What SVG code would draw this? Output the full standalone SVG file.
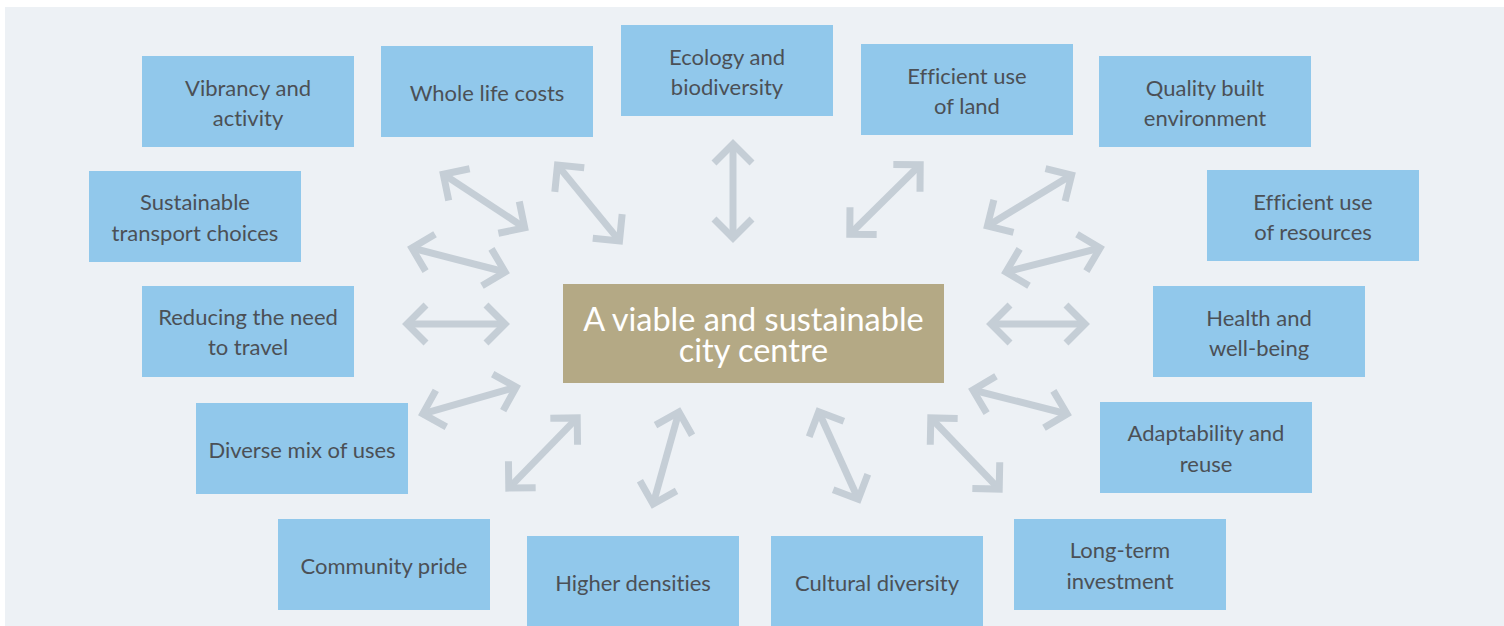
<svg xmlns="http://www.w3.org/2000/svg" width="1504" height="626" viewBox="0 0 1504 626">
  <style>
    text { font-variant-ligatures: none; }
    .box { fill: #91c8eb; }
    .label { font-family: Lato, "Open Sans", "Liberation Sans", sans-serif; font-size: 22px; fill: #4b5056; text-anchor: middle; }
    .hub { fill: #b4a985; }
    .hub-label { font-family: Lato, "Open Sans", "Liberation Sans", sans-serif; font-size: 32.5px; fill: #ffffff; text-anchor: middle; }
    .link { fill: none; stroke: #c5ced6; stroke-width: 7; marker-start: url(#head); marker-end: url(#head); }
  </style>
  <defs>
    <marker id="head" markerUnits="userSpaceOnUse" viewBox="-30 -30 40 60" markerWidth="40" markerHeight="60" refX="0" refY="0" orient="auto-start-reverse" overflow="visible">
      <path d="M-19,-19 L0,0 L-19,19" fill="none" stroke="#c5ced6" stroke-width="7" stroke-linejoin="miter"/>
    </marker>
  </defs>

  <!-- backdrop panel -->
  <rect x="5" y="7" width="1499" height="619" fill="#edf1f5"/>

  <!-- two-headed links between the hub and each theme -->
  <g id="connectors">
    <line class="link" x1="443.3" y1="174.2" x2="524.7" y2="227.8"/>
    <line class="link" x1="557.5" y1="165.1" x2="619.5" y2="240.9"/>
    <line class="link" x1="733" y1="144" x2="733" y2="238"/>
    <line class="link" x1="920.2" y1="164.8" x2="849.8" y2="234.2"/>
    <line class="link" x1="1071.6" y1="175.1" x2="987.4" y2="225.9"/>
    <line class="link" x1="1100.1" y1="248" x2="1005.9" y2="272"/>
    <line class="link" x1="1085" y1="324" x2="991" y2="324"/>
    <line class="link" x1="972.9" y1="390" x2="1067.1" y2="414"/>
    <line class="link" x1="930.8" y1="417.9" x2="999.2" y2="489.1"/>
    <line class="link" x1="818.7" y1="411.7" x2="858.3" y2="499.3"/>
    <line class="link" x1="678.9" y1="411.9" x2="653.1" y2="504.1"/>
    <line class="link" x1="577.2" y1="417.9" x2="508.8" y2="488.1"/>
    <line class="link" x1="516.2" y1="387.1" x2="422.8" y2="413.9"/>
    <line class="link" x1="407" y1="324" x2="505" y2="324"/>
    <line class="link" x1="411.9" y1="248" x2="505.1" y2="272"/>
  </g>

  <!-- central hub -->
  <g id="hub">
    <rect class="hub" x="563" y="284" width="381" height="99"/>
    <text class="hub-label"><tspan x="753.5" y="331">A viable and sustainable</tspan><tspan x="753.5" y="362">city centre</tspan></text>
  </g>

  <!-- theme boxes -->
  <g id="vibrancy">
    <rect class="box" x="142" y="56" width="212" height="91"/>
    <text class="label" x="248" y="96">Vibrancy and</text>
    <text class="label" x="248" y="126">activity</text>
  </g>
  <g id="whole-life-costs">
    <rect class="box" x="381" y="46" width="212" height="91"/>
    <text class="label" x="487" y="101">Whole life costs</text>
  </g>
  <g id="ecology">
    <rect class="box" x="621" y="25" width="212" height="91"/>
    <text class="label" x="727" y="65">Ecology and</text>
    <text class="label" x="727" y="95">biodiversity</text>
  </g>
  <g id="land-use">
    <rect class="box" x="861" y="44" width="212" height="91"/>
    <text class="label" x="967" y="84">Efficient use</text>
    <text class="label" x="967" y="114">of land</text>
  </g>
  <g id="built-environment">
    <rect class="box" x="1099" y="56" width="212" height="91"/>
    <text class="label" x="1205" y="96">Quality built</text>
    <text class="label" x="1205" y="126">environment</text>
  </g>
  <g id="transport">
    <rect class="box" x="89" y="171" width="212" height="91"/>
    <text class="label" x="195" y="210">Sustainable</text>
    <text class="label" x="195" y="241">transport choices</text>
  </g>
  <g id="resources">
    <rect class="box" x="1207" y="170" width="212" height="91"/>
    <text class="label" x="1313" y="210">Efficient use</text>
    <text class="label" x="1313" y="240">of resources</text>
  </g>
  <g id="travel">
    <rect class="box" x="142" y="286" width="212" height="91"/>
    <text class="label" x="248" y="325">Reducing the need</text>
    <text class="label" x="248" y="355">to travel</text>
  </g>
  <g id="health">
    <rect class="box" x="1153" y="286" width="212" height="91"/>
    <text class="label" x="1259" y="326">Health and</text>
    <text class="label" x="1259" y="356">well-being</text>
  </g>
  <g id="mixed-uses">
    <rect class="box" x="196" y="403" width="212" height="91"/>
    <text class="label" x="302" y="458">Diverse mix of uses</text>
  </g>
  <g id="adaptability">
    <rect class="box" x="1100" y="402" width="212" height="91"/>
    <text class="label" x="1206" y="441">Adaptability and</text>
    <text class="label" x="1206" y="472">reuse</text>
  </g>
  <g id="community">
    <rect class="box" x="278" y="519" width="212" height="91"/>
    <text class="label" x="384" y="574">Community pride</text>
  </g>
  <g id="densities">
    <rect class="box" x="527" y="536" width="212" height="91"/>
    <text class="label" x="633" y="591">Higher densities</text>
  </g>
  <g id="cultural">
    <rect class="box" x="771" y="536" width="212" height="91"/>
    <text class="label" x="877" y="591">Cultural diversity</text>
  </g>
  <g id="investment">
    <rect class="box" x="1014" y="519" width="212" height="91"/>
    <text class="label" x="1120" y="558">Long-term</text>
    <text class="label" x="1120" y="589">investment</text>
  </g>
</svg>
